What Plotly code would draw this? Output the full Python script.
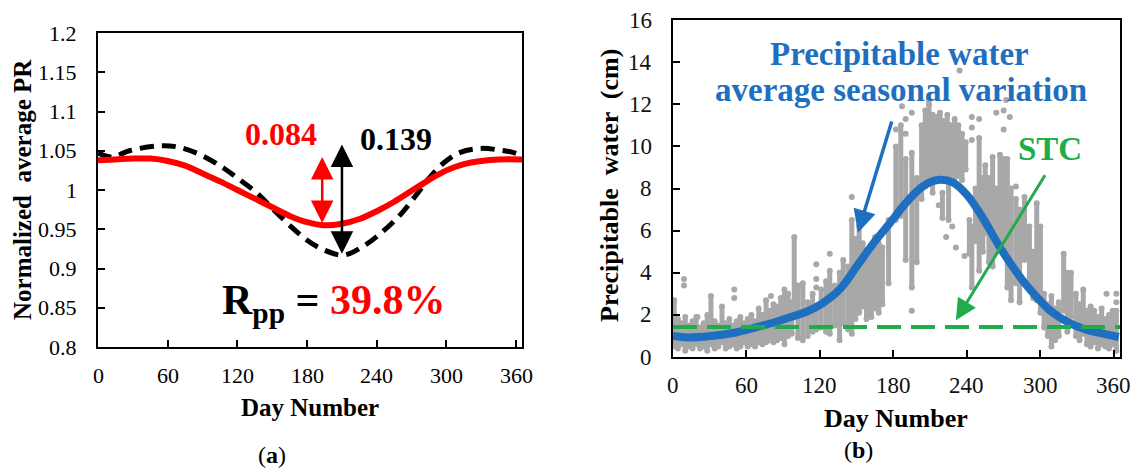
import plotly.graph_objects as go

W, H = 1135, 473

# ---------------- Panel (a) data ----------------
red_day = [0, 15, 30, 45, 60, 75, 90, 105, 120, 135, 150, 165, 180, 195, 210, 225, 240, 255, 270, 285, 300, 315, 330, 345, 365]
red_pr = [1.038, 1.039, 1.040, 1.040, 1.037, 1.031, 1.021, 1.011, 1.000, 0.989, 0.978, 0.967, 0.959, 0.955, 0.957,
          0.963, 0.973, 0.985, 0.999, 1.013, 1.025, 1.033, 1.037, 1.039, 1.039]
blk_day = [0, 12, 27, 50, 68, 88, 108, 122, 137, 151, 165, 180, 194, 211, 228, 245, 260, 272, 285, 298, 312, 330, 345, 357, 365]
blk_pr = [1.047, 1.042, 1.050, 1.056, 1.055, 1.045, 1.028, 1.013, 0.996, 0.975, 0.955, 0.936, 0.924, 0.917, 0.928,
          0.947, 0.968, 0.990, 1.015, 1.035, 1.048, 1.053, 1.051, 1.048, 1.044]
a_ytick_vals = [0.8, 0.85, 0.9, 0.95, 1.0, 1.05, 1.1, 1.15, 1.2]
a_ytick_text = ["0.8", "0.85", "0.9", "0.95", "1", "1.05", "1.1", "1.15", "1.2"]
day_ticks = [0, 60, 120, 180, 240, 300, 360]
red_gap = [193, 0.956, 1.042]   # day, low, high
blk_gap = [210, 0.917, 1.058]

# ---------------- Panel (b) data ----------------
pw_day = [0, 12, 31, 50, 67, 83, 96, 109, 122, 136, 150, 163, 177, 190, 204, 216, 228, 240, 253, 266, 276, 286, 297,
          308, 318, 328, 340, 352, 364]
pw_avg = [1.0, 0.93, 1.0, 1.15, 1.4, 1.65, 1.9, 2.15, 2.55, 3.2, 4.3, 5.35, 6.35, 7.3, 8.1, 8.4, 8.3, 7.7, 6.6, 5.3,
          4.4, 3.6, 2.85, 2.2, 1.8, 1.5, 1.25, 1.1, 0.95]
stc_pw = 1.42
streak_day = [1, 4, 7, 10, 13, 16, 19, 22, 25, 28, 31, 34, 37, 40, 43, 46, 49, 52, 55, 58, 61, 64, 67, 70, 73, 76,
              79, 82, 85, 88, 91, 94, 97, 99, 102, 106, 110, 114, 117, 121, 125, 128, 132, 136, 139, 143, 146, 149,
              152, 155, 158, 162, 165, 168, 171, 176, 182, 186, 190, 195, 199, 203, 206, 209, 212, 215, 218, 221,
              224, 227, 230, 233, 236, 239, 220, 225, 242, 244, 247, 250, 253, 255, 258, 261, 264, 267, 270, 273,
              276, 280, 283, 287, 291, 294, 297, 300, 303, 306, 309, 312, 315, 319, 322, 325, 329, 332, 335, 338,
              341, 344, 347, 350, 353, 356, 359, 362]
streak_lo = [0.5, 0.4, 0.6, 0.3, 0.5, 0.4, 0.6, 0.4, 0.5, 0.3, 0.6, 0.4, 0.5, 0.7, 0.4, 0.5, 0.6, 0.4, 0.5, 0.7,
             0.5, 0.6, 0.5, 0.7, 0.6, 0.7, 0.8, 0.7, 0.8, 0.9, 0.6, 1.0, 1.1, 2.1, 0.9, 0.8, 1.0, 1.2, 1.3, 1.4,
             1.2, 1.1, 1.5, 0.8, 1.6, 1.3, 1.1, 1.8, 2.1, 2.4, 1.8, 1.9, 2.3, 2.1, 2.5, 3.5, 6.5, 6.7, 4.6, 3.3,
             4.5, 7.5, 8.1, 8.3, 7.8, 8.4, 8.5, 8.4, 8.6, 8.3, 8.5, 8.6, 8.4, 8.9, 6.6, 6.5, 4.9, 3.3, 5.5, 4.1,
             5.0, 5.9, 4.5, 4.3, 5.0, 5.2, 5.4, 3.3, 2.7, 3.5, 2.6, 4.6, 3.2, 2.8, 2.7, 2.1, 1.4, 1.0, 0.5, 0.8,
             1.0, 2.2, 1.2, 1.9, 1.0, 0.8, 1.1, 0.6, 0.5, 0.7, 0.4, 0.6, 0.5, 0.4, 0.6, 0.3]
streak_hi = [2.7, 1.8, 1.6, 1.9, 1.5, 1.7, 1.9, 1.4, 1.6, 2.0, 2.9, 1.7, 1.5, 2.4, 1.6, 1.8, 1.5, 1.7, 1.9, 1.6,
             1.8, 2.0, 1.7, 2.3, 2.0, 2.7, 2.2, 2.5, 2.4, 2.8, 3.2, 3.0, 2.6, 5.7, 3.4, 3.5, 2.6, 3.0, 2.2, 3.2,
             3.6, 4.1, 3.4, 4.0, 4.6, 4.3, 6.5, 5.6, 6.2, 5.4, 5.0, 5.2, 5.7, 5.4, 5.2, 6.5, 10.0, 11.0, 9.4, 9.7,
             8.5, 11.0, 11.7, 12.0, 11.5, 11.4, 11.6, 11.2, 11.5, 11.0, 11.3, 11.0, 10.6, 10.2, 7.8, 8.5, 6.5, 6.2,
             8.0, 10.4, 8.5, 9.1, 8.5, 9.5, 8.0, 9.6, 9.4, 9.4, 8.0, 7.5, 7.0, 7.6, 6.2, 5.0, 7.3, 6.2, 3.0, 2.5,
             2.9, 2.3, 2.6, 4.9, 4.0, 4.0, 3.0, 2.5, 3.2, 2.2, 2.4, 2.2, 1.9, 2.3, 1.8, 2.0, 2.2, 2.2]
dot_day = [9, 9, 20, 50, 50, 80, 117, 117, 117, 128, 146, 182, 187, 190, 190, 195, 195, 209, 217, 223, 228, 231,
           234, 238, 244, 244, 244, 250, 264, 270, 270, 272, 275, 280, 354, 362, 362]
dot_val = [3.4, 3.7, 1.9, 2.8, 3.2, 2.9, 3.3, 3.7, 4.4, 4.9, 7.6, 10.8, 11.9, 10.6, 11.3, 2.2, 11.6, 12.2, 7.2, 5.7,
           6.2, 5.2, 13.6, 4.8, 10.3, 10.9, 11.4, 11.3, 11.6, 10.8, 11.7, 12.2, 11.4, 8.1, 3.0, 3.0, 2.6]
b_ytick_vals = [0, 2, 4, 6, 8, 10, 12, 14, 16]

# ---------------- layout helpers ----------------
def px_x(p):
    return p / W

def px_y(p):
    return 1 - p / H

FONT = "Liberation Serif"
RED = "#ff0000"
BLUE = "#1f6fc1"
GREEN = "#22ab4b"
GREY = "#a8a8a8"

fig = go.Figure()

# Panel (a)
fig.add_trace(go.Scatter(x=blk_day, y=blk_pr, mode="lines", line=dict(color="black", width=5, dash="14px,8px", shape="spline"),
                         xaxis="x", yaxis="y", showlegend=False))
fig.add_trace(go.Scatter(x=red_day, y=red_pr, mode="lines", line=dict(color=RED, width=6, shape="spline"),
                         xaxis="x", yaxis="y", showlegend=False))

# Panel (b): grey scatter streaks
sx, sy = [], []
for d, lo, hi in zip(streak_day, streak_lo, streak_hi):
    sx += [d, d, None]
    sy += [lo, hi, None]
fig.add_trace(go.Scatter(x=sx, y=sy, mode="lines+markers", line=dict(color=GREY, width=5),
                         marker=dict(color=GREY, size=6), xaxis="x2", yaxis="y2", showlegend=False))
fig.add_trace(go.Scatter(x=dot_day, y=dot_val, mode="markers", marker=dict(color=GREY, size=6),
                         xaxis="x2", yaxis="y2", showlegend=False))
fig.add_trace(go.Scatter(x=pw_day, y=pw_avg, mode="lines", line=dict(color=BLUE, width=8, shape="spline"),
                         xaxis="x2", yaxis="y2", showlegend=False))
fig.add_trace(go.Scatter(x=[0, 365], y=[stc_pw, stc_pw], mode="lines", line=dict(color=GREEN, width=4, dash="24px,10px"),
                         xaxis="x2", yaxis="y2", showlegend=False))

axis_common = dict(showline=True, linecolor="black", linewidth=2, mirror=True, ticks="inside", ticklen=7,
                   tickwidth=2, tickcolor="black", showgrid=False, zeroline=False, showticklabels=False)

fig.update_layout(
    width=W, height=H, autosize=False, margin=dict(l=0, r=0, t=0, b=0),
    paper_bgcolor="white", plot_bgcolor="white", showlegend=False,
    xaxis=dict(domain=[px_x(98), px_x(522)], range=[0, 365], tickvals=day_ticks, anchor="y", **axis_common),
    yaxis=dict(domain=[px_y(347), px_y(33)], range=[0.8, 1.2], tickvals=a_ytick_vals, anchor="x", **axis_common),
    xaxis2=dict(domain=[px_x(673), px_x(1120)], range=[0, 365], tickvals=day_ticks, anchor="y2", **axis_common),
    yaxis2=dict(domain=[px_y(357), px_y(20)], range=[0, 16], tickvals=b_ytick_vals, anchor="x2", **axis_common),
)

ann = []
def ptext(text, x, y, size, color="black", angle=0):
    ann.append(dict(text=text, x=px_x(x), y=px_y(y), xref="paper", yref="paper", showarrow=False,
                    xanchor="center", yanchor="middle", textangle=angle,
                    font=dict(family=FONT, size=size, color=color)))

# tick labels (drawn as text at axis values)
TICK_A = dict(family=FONT, size=22, color="black")
TICK_B = dict(family=FONT, size=23, color="#111111")
for v, t in zip(a_ytick_vals, a_ytick_text):
    ann.append(dict(text=t, x=px_x(79), y=v, xref="paper", yref="y", showarrow=False, xanchor="right",
                    yanchor="middle", font=TICK_A))
for v in day_ticks:
    ann.append(dict(text=str(v), x=v, y=px_y(375), xref="x", yref="paper", showarrow=False, xanchor="center",
                    yanchor="middle", font=TICK_A))
for v in b_ytick_vals:
    ann.append(dict(text=str(v), x=px_x(654), y=v, xref="paper", yref="y2", showarrow=False, xanchor="right",
                    yanchor="middle", font=TICK_B))
for v in day_ticks:
    ann.append(dict(text=str(v), x=v, y=px_y(385), xref="x2", yref="paper", showarrow=False, xanchor="center",
                    yanchor="middle", font=TICK_B))

ptext("<b>Normalized  average PR</b>", 22, 190, 25, angle=-90)
ptext("<b>Day Number</b>", 310, 407, 25)
ptext("<b>Precipitable  water  (cm)</b>", 609, 186, 26, angle=-90)
ptext("<b>Day Number</b>", 896, 418, 26)
ptext("(<b>a</b>)", 272, 455, 24)
ptext("(<b>b</b>)", 858, 450, 24)
ptext("<b>0.084</b>", 281, 134, 32, color=RED)
ptext("<b>0.139</b>", 396, 139, 32)
ptext("<b>R<sub>pp</sub> = <span style='color:#ff0000'>39.8%</span></b>", 333, 303, 42)
ptext("<b>Precipitable water</b>", 900, 54, 33, color=BLUE)
ptext("<b>average seasonal variation</b>", 901, 90, 33, color=BLUE)
ptext("<b>STC</b>", 1050, 149, 33, color=GREEN)

def arrow(xr, yr, x, y, ax, ay, color, width, both=False, size=1.3):
    a = dict(text="", x=x, y=y, ax=ax, ay=ay, xref=xr, yref=yr, axref=xr, ayref=yr, showarrow=True,
             arrowhead=2, arrowsize=size, arrowwidth=width, arrowcolor=color, standoff=0, startstandoff=0)
    if both:
        a.update(arrowside="end+start", startarrowhead=2, startarrowsize=size)
    ann.append(a)

arrow("x", "y", red_gap[0], red_gap[2], red_gap[0], red_gap[1], RED, 2.5, both=True, size=1.8)
arrow("x", "y", blk_gap[0], blk_gap[2], blk_gap[0], blk_gap[1], "black", 2.5, both=True, size=1.8)
arrow("x2", "y2", 151, 5.9, 179, 11.25, BLUE, 3.5, size=1.3)
arrow("x2", "y2", 231, 1.75, 304.5, 8.7, GREEN, 3, size=1.4)

fig.update_layout(annotations=ann)
fig.write_html("out.html", config={"displayModeBar": False},
               post_script="document.body.style.margin='0';document.body.style.overflow='hidden';")
